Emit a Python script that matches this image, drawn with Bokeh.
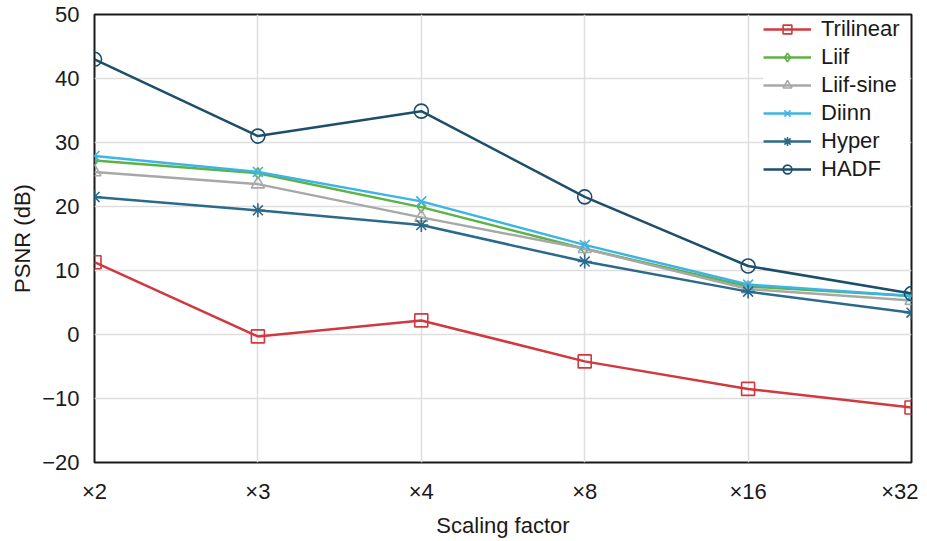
from bokeh.plotting import figure
from bokeh.models import FixedTicker, Legend, LegendItem, Range1d
from bokeh.embed import file_html
from bokeh.resources import INLINE

categories = ["×2", "×3", "×4", "×8", "×16", "×32"]
trilinear = [11.3, -0.3, 2.2, -4.2, -8.5, -11.4]
liif = [27.2, 25.2, 19.9, 13.4, 7.5, 6.0]
liif_sine = [25.4, 23.5, 18.3, 13.4, 7.1, 5.3]
diinn = [27.9, 25.4, 20.8, 14.0, 7.8, 6.0]
hyper = [21.5, 19.4, 17.1, 11.4, 6.7, 3.4]
hadf = [43.0, 31.0, 34.9, 21.5, 10.7, 6.4]
y_ticks = [-20, -10, 0, 10, 20, 30, 40, 50]

FONT = "Liberation Sans"
FS = "22px"
x = list(range(len(categories)))

p = figure(frame_width=817, frame_height=448, output_backend="svg", toolbar_location=None,
           x_range=Range1d(0, len(categories) - 1), y_range=Range1d(-20, 50),
           min_border_left=94, min_border_right=7, min_border_top=14, min_border_bottom=60)

p.outline_line_color = "#1a1a1a"
p.outline_line_width = 2
p.background_fill_color = "white"

for ax in (p.xaxis[0], p.yaxis[0]):
    ax.axis_line_color = None
    ax.major_tick_line_color = None
    ax.minor_tick_line_color = None
    ax.major_tick_out = 0
    ax.major_tick_in = 0
    ax.minor_tick_out = 0
    ax.minor_tick_in = 0
    ax.major_label_text_font = FONT
    ax.major_label_text_font_size = FS
    ax.major_label_text_color = "#1a1a1a"
    ax.axis_label_text_font = FONT
    ax.axis_label_text_font_size = FS
    ax.axis_label_text_font_style = "normal"
    ax.axis_label_text_color = "#1a1a1a"

p.xaxis.ticker = FixedTicker(ticks=x)
p.xaxis.major_label_overrides = {i: c for i, c in enumerate(categories)}
p.xaxis.major_label_standoff = 16
p.xaxis.axis_label = "Scaling factor"
p.xaxis.axis_label_standoff = 6

p.yaxis.ticker = FixedTicker(ticks=y_ticks)
p.yaxis.major_label_overrides = {t: ("−" + str(-t) if t < 0 else str(t)) for t in y_ticks}
p.yaxis.major_label_standoff = 15
p.yaxis.axis_label = "PSNR (dB)"
p.yaxis.axis_label_standoff = 4

p.xgrid.grid_line_color = "#dedede"
p.ygrid.grid_line_color = "#dedede"
p.xgrid.grid_line_width = 1.5
p.ygrid.grid_line_width = 1.5

series = [
    ("Trilinear", trilinear, "#d0393f", "square", 13),
    ("Liif", liif, "#5db246", "diamond", 11),
    ("Liif-sine", liif_sine, "#a8a8a8", "triangle", 13),
    ("Diinn", diinn, "#3cb5e5", "x", 14),
    ("Hyper", hyper, "#2c6a8c", "asterisk", 14),
    ("HADF", hadf, "#1d4e6a", "circle", 14),
]

items = []
for name, ys, color, marker, size in series:
    ln = p.line(x, ys, line_color=color, line_width=2.5)
    sc = p.scatter(x, ys, marker=marker, size=size, line_color=color,
                   fill_color=None, line_width=1.6)
    items.append(LegendItem(label=name, renderers=[ln, sc]))

legend = Legend(items=items, location="top_right")
legend.label_text_font = FONT
legend.label_text_font_size = FS
legend.label_text_color = "#1a1a1a"
legend.glyph_width = 48
legend.glyph_height = 22
legend.label_height = 22
legend.label_width = 88
legend.spacing = 2
legend.padding = 4
legend.margin = 2
legend.label_standoff = 10
legend.border_line_color = None
legend.background_fill_color = "white"
legend.background_fill_alpha = 1.0
p.add_layout(legend)

open("out.html", "w").write(file_html(p, INLINE))
